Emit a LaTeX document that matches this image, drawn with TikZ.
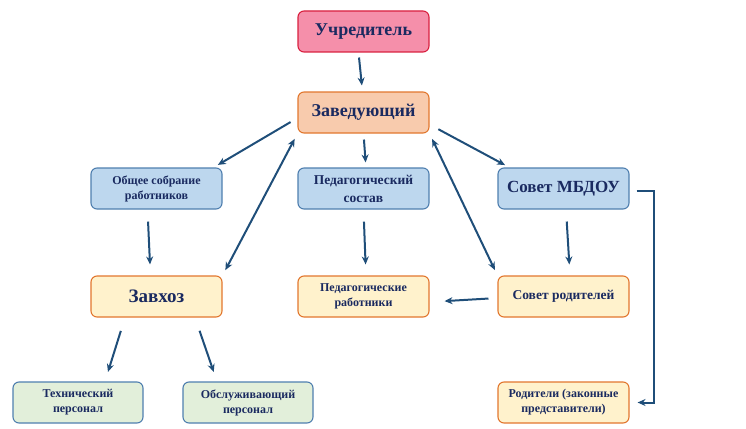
\documentclass[tikz,border=0pt]{standalone}
\usepackage{fontspec}
\setmainfont{Liberation Serif}
\usepackage{tikz}
\usetikzlibrary{arrows.meta}
\definecolor{txtnavy}{HTML}{1A2A60}
\definecolor{arrblue}{HTML}{1F4E79}
\definecolor{pinkfill}{HTML}{F58FAA}
\definecolor{pinkline}{HTML}{D9203F}
\definecolor{orfill}{HTML}{F8CBAD}
\definecolor{orline}{HTML}{E2772E}
\definecolor{bluefill}{HTML}{BDD7EE}
\definecolor{blueline}{HTML}{4F7FAF}
\definecolor{yelfill}{HTML}{FFF2CC}
\definecolor{grnfill}{HTML}{E2EFDA}

\begin{document}
\begin{tikzpicture}[x=1pt,y=-1pt,
	box/.style={rounded corners=6pt, line width=1.1pt, minimum width=131pt, minimum height=41pt,
		align=center, text=txtnavy, inner sep=2pt},
	head/.style={box, fill=pinkfill, draw=pinkline},
	chief/.style={box, fill=orfill, draw=orline},
	council/.style={box, fill=bluefill, draw=blueline},
	staff/.style={box, fill=yelfill, draw=orline},
	crew/.style={box, fill=grnfill, draw=blueline, minimum width=130pt},
	big/.style={font=\bfseries\fontsize{18}{20}\selectfont},
	mid/.style={font=\bfseries\fontsize{13.5}{18}\selectfont},
	small/.style={font=\bfseries\fontsize{12}{15}\selectfont},
	arr/.style={-{Stealth[length=8pt,width=7pt]}, line width=2pt, draw=arrblue},
	both/.style={arr, {Stealth[length=8pt,width=7pt]}-{Stealth[length=8pt,width=7pt]}}]
	\useasboundingbox (0,0) rectangle (746,428);
	% boxes
	\node[head, big] (uch) at (363.5,31.5) {Учредитель};
	\node[chief, big] (zav) at (363.5,112.5) {Заведующий};
	\node[council, small] (obsh) at (156.5,188.5) {Общее собрание\\ работников};
	\node[council, mid] (ped) at (363.5,188.5) {Педагогический\\ состав};
	\node[council, font=\bfseries\fontsize{17}{20}\selectfont] (sovet) at (563.5,188.5) {Совет МБДОУ};
	\node[staff, font=\bfseries\fontsize{19}{22}\selectfont] (zavhoz) at (156.5,296.5) {Завхоз};
	\node[staff, small] (pedrab) at (363.5,296.5) {Педагогические\\ работники};
	\node[staff, mid] (sovrod) at (563.5,296.5) {Совет родителей};
	\node[crew, small] (tech) at (78,402.5) {Технический\\ персонал};
	\node[crew, small] (obsl) at (248,402.5) {Обслуживающий\\ персонал};
	\node[staff, small] (rod) at (563.5,402.5) {Родители (законные\\ представители)};
	% arrows
	\draw[arr, shorten <=5pt, shorten >=6pt] ([xshift=-5pt]uch.south) -- ([xshift=-1pt]zav.north);
	\draw[arr, shorten <=8pt, shorten >=5pt] ([yshift=-5.5pt]zav.west) -- ([xshift=-9pt]obsh.north east);
	\draw[arr, shorten <=6pt, shorten >=5pt] (zav.south) -- ([xshift=2.5pt]ped.north);
	\draw[arr, shorten <=10pt, shorten >=5pt] ([yshift=-12pt]zav.east) -- ([xshift=12pt]sovet.north west);
	\draw[both, shorten <=6pt, shorten >=6pt] (zavhoz.north east) -- (zav.south west);
	\draw[both, shorten <=6pt, shorten >=6pt] (sovrod.north west) -- (zav.south east);
	\draw[arr, shorten <=12pt, shorten >=11pt] ([xshift=-9pt]obsh.south) -- ([xshift=-6pt]zavhoz.north);
	\draw[arr, shorten <=12pt, shorten >=11pt] (ped.south) -- ([xshift=2.5pt]pedrab.north);
	\draw[arr, shorten <=12pt, shorten >=11pt] ([xshift=2.5pt]sovet.south) -- ([xshift=6.5pt]sovrod.north);
	\draw[arr, shorten <=9pt, shorten >=15pt] ([yshift=-1.5pt]sovrod.west) -- ([yshift=-5.5pt]pedrab.east);
	\draw[arr, shorten <=14pt, shorten >=10pt] ([xshift=-31.5pt]zavhoz.south) -- ([xshift=27pt]tech.north);
	\draw[arr, shorten <=14pt, shorten >=10pt] ([xshift=38.5pt]zavhoz.south) -- ([xshift=-31pt]obsl.north);
	\draw[arr, shorten <=7pt, shorten >=8pt] ([yshift=-2.5pt]sovet.east) -- ++(24,0) |- (rod.east);
\end{tikzpicture}
\end{document}
